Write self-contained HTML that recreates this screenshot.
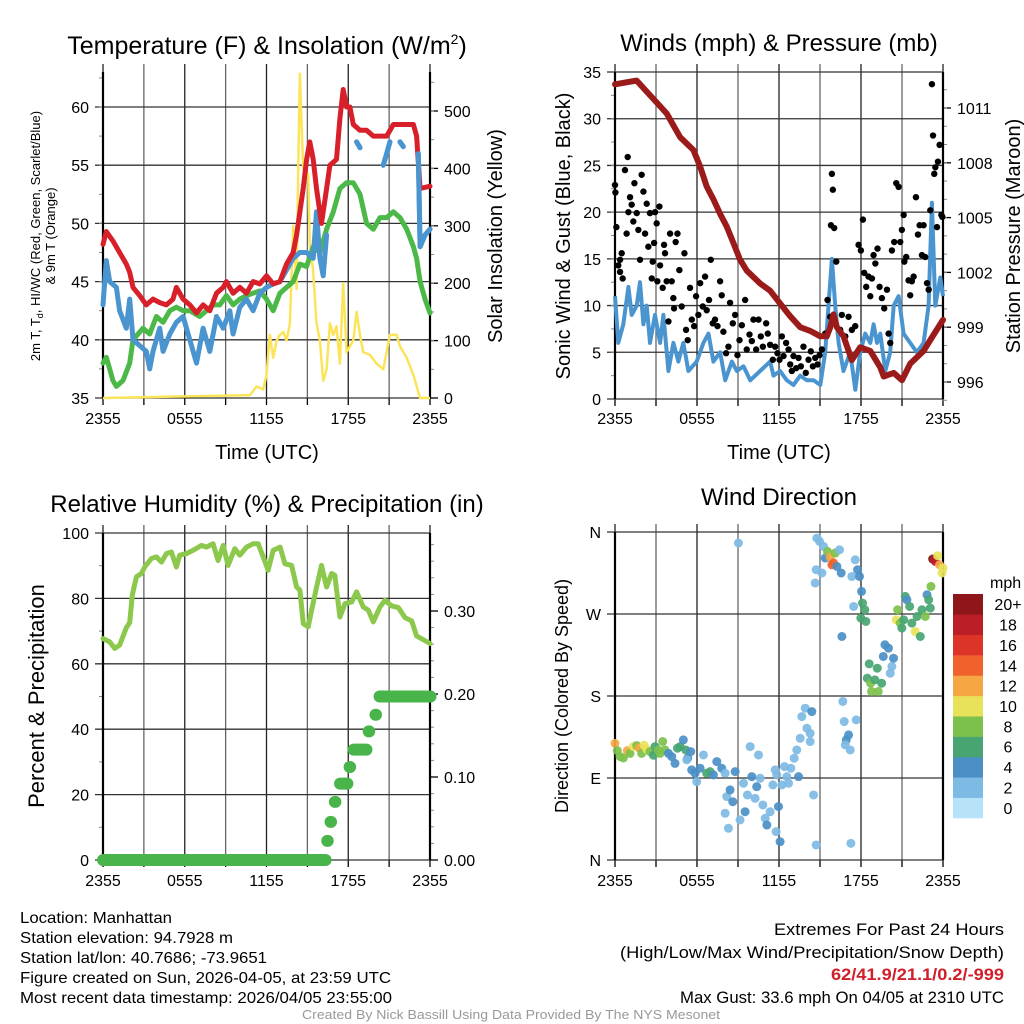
<!DOCTYPE html>
<html><head><meta charset="utf-8">
<style>
html,body{margin:0;padding:0;background:#fff;}
body{width:1024px;height:1024px;overflow:hidden;position:relative;font-family:"Liberation Sans",sans-serif;}
svg{position:absolute;left:0;top:0;}
</style></head>
<body>
<svg id="chart" width="1024" height="1024" viewBox="0 0 1024 1024" xmlns="http://www.w3.org/2000/svg">
<g id="g1"></g>
<g id="g2"></g>
<g id="g3"></g>
<g id="g4"></g>
<text x="267" y="54" font-size="25" text-anchor="middle">Temperature (F) &amp; Insolation (W/m<tspan font-size="14" dy="-10">2</tspan><tspan dy="10">)</tspan></text>
<text x="779" y="51" font-size="24" text-anchor="middle">Winds (mph) &amp; Pressure (mb)</text>
<text x="267" y="512" font-size="24" text-anchor="middle">Relative Humidity (%) &amp; Precipitation (in)</text>
<text x="779" y="505" font-size="24" text-anchor="middle">Wind Direction</text>
<text transform="translate(40,236) rotate(-90)" font-size="13" text-anchor="middle">2m T, T<tspan font-size="9" dy="3">d</tspan><tspan dy="-3">, HI/WC (Red, Green, Scarlet/Blue)</tspan></text>
<text transform="translate(55,236) rotate(-90)" font-size="13" text-anchor="middle">&amp; 9m T (Orange)</text>
<text transform="translate(502,236) rotate(-90)" font-size="20" text-anchor="middle">Solar Insolation (Yellow)</text>
<text x="267" y="459" font-size="20" text-anchor="middle">Time (UTC)</text>
<text transform="translate(570,236) rotate(-90)" font-size="20" text-anchor="middle">Sonic Wind &amp; Gust (Blue, Black)</text>
<text transform="translate(1020,236) rotate(-90)" font-size="20" text-anchor="middle">Station Pressure (Maroon)</text>
<text x="779" y="459" font-size="20" text-anchor="middle">Time (UTC)</text>
<text transform="translate(44,696) rotate(-90)" font-size="22" text-anchor="middle">Percent &amp; Precipitation</text>
<text transform="translate(568,696) rotate(-90)" font-size="18" text-anchor="middle">Direction (Colored By Speed)</text>
<g font-size="16">
<text x="20" y="923" textLength="152" lengthAdjust="spacingAndGlyphs">Location: Manhattan</text>
<text x="20" y="943" textLength="213" lengthAdjust="spacingAndGlyphs">Station elevation: 94.7928 m</text>
<text x="20" y="963" textLength="247" lengthAdjust="spacingAndGlyphs">Station lat/lon: 40.7686; -73.9651</text>
<text x="20" y="983" textLength="371" lengthAdjust="spacingAndGlyphs">Figure created on Sun, 2026-04-05, at 23:59 UTC</text>
<text x="20" y="1003" textLength="372" lengthAdjust="spacingAndGlyphs">Most recent data timestamp: 2026/04/05 23:55:00</text>
</g>
<g font-size="17">
<text x="774" y="935" textLength="230" lengthAdjust="spacingAndGlyphs">Extremes For Past 24 Hours</text>
<text x="620" y="958" textLength="384" lengthAdjust="spacingAndGlyphs">(High/Low/Max Wind/Precipitation/Snow Depth)</text>
<text x="831" y="980" fill="#d0202a" font-weight="bold" textLength="173" lengthAdjust="spacingAndGlyphs">62/41.9/21.1/0.2/-999</text>
<text x="680" y="1003" textLength="324" lengthAdjust="spacingAndGlyphs">Max Gust: 33.6 mph On 04/05 at 2310 UTC</text>
</g>
<text x="302" y="1019" font-size="13" fill="#999" textLength="418" lengthAdjust="spacingAndGlyphs">Created By Nick Bassill Using Data Provided By The NYS Mesonet</text>
</svg>
<script>
// ---- data (time in hours since 2355 UTC previous day) ----
const timeTickLabels = ["2355","0555","1155","1755","2355"];
const tempT = [0,0.24,0.73,1.22,1.71,1.96,2.2,2.69,3.18,3.67,4.16,4.65,5.14,5.39,5.88,6.37,6.86,7.35,7.84,8.33,8.82,9.06,9.55,10.04,10.53,11.02,11.51,12,12.49,12.98,13.47,13.96,14.21,14.45,14.69,14.94,15.18,15.43,15.67,16.04,16.41,16.65,17.14,17.39,17.63,17.88,18.12,18.37,18.86,19.35,19.84,20.33,20.82,21.31,21.8,22.29,22.78,23.02,23.27,24];
const tempV = [48.2,49.3,48.5,47.5,46.5,45.8,44.5,43.8,43,43.5,43.2,43,43.5,44.5,43.5,43,42.3,43,42.5,44,44.5,45,44,44.5,44,45,44.8,45.5,44.8,45,46.5,47.5,49,51,53,55.5,57,55.5,53,50,53,55,55.5,59,61.5,60,60,58.5,58,58,57.5,57.5,57.5,58.5,58.5,58.5,58.5,57.5,53,53.2];
const dewT = [0,0.24,0.49,0.73,0.98,1.47,1.96,2.2,2.94,3.43,3.92,4.41,4.9,5.39,5.88,6.37,7.1,7.59,8.08,8.57,9.06,9.55,10.04,10.53,11.02,11.51,12,12.49,12.98,13.47,13.96,14.45,14.94,15.43,15.92,16.41,16.9,17.39,17.88,18.37,18.86,19.35,19.84,20.33,20.82,21.31,21.8,22.29,22.78,23.02,23.27,23.63,24];
const dewV = [38,38.5,37.5,36.5,36,36.5,38,40,41,40.5,42,41.5,42.5,42.8,42.5,42.5,42,42.5,43,43,43.8,43,43.5,43.8,44,44.2,43.5,42.5,44,44.5,45,46.5,46.3,48,47.5,49.5,51,53,53.5,53.5,52.5,50,49.5,50.5,50.5,51,50.5,49.5,48,47,45,43.5,42.3];
const hiwcT = [0,0.24,0.49,0.98,1.22,1.71,1.96,2.2,2.69,3.18,3.43,3.67,4.16,4.41,4.9,5.39,5.88,6.37,6.86,7.35,7.84,8.33,8.82,9.31,9.55,10.04,10.53,11.02,11.51,12,12.49,12.98,13.47,13.96,14.45,14.94,15.43,15.67,15.92,16.16,16.41, 18.61,18.86, 20.57,20.82,21.06, 21.8,22.04, 23.14,23.27,23.63,24];
const hiwcV = [43,46.8,45,44.5,42.5,41,43.5,40,39.5,39,37.5,39,41,39,40.5,41.5,42,40,38,41,39,42,41,42.5,40.5,42.8,43.5,42.5,44,44.5,44.8,45,46,47,47.5,47.5,47,51,47,45.5,49, 57,56.5, 55,56,57, 57,56.6, 56,48,49,49.5];
const hiwcBreaks = [41,43,46,48];
const solarTimes = [0,10.78,11.27,11.76,12.0,12.25,12.49,12.74,12.98,13.23,13.47,13.72,13.96,14.21,14.33,14.45,14.57,14.69,15.06,15.18,15.43,15.67,15.92,16.16,16.41,16.65,16.9,17.14,17.39,17.63,17.88,18.37,18.61,18.86,19.1,19.59,20.08,20.57,21.06,21.55,21.8,22.29,22.78,23.27,24];
const solarVals = [0,5,20,15,40,110,70,100,110,115,100,130,300,190,400,565,480,400,390,270,220,130,100,30,50,130,110,125,60,200,80,100,150,110,80,75,60,50,110,110,90,70,40,0,0];
const tempTicks = [35,40,45,50,55,60];
const solarTicks = [0,100,200,300,400,500];

const windT = [0,0.24,0.61,0.98,1.22,1.59,1.83,2.08,2.32,2.56,2.93,3.3,3.54,3.91,4.27,4.64,5.0,5.37,5.98,6.47,6.84,7.2,7.69,8.06,8.55,8.91,9.4,9.89,10.62,11.35,11.6,12.08,12.57,13.06,13.55,14.04,14.53,15.02,15.38,15.62,15.87,16.11,16.36,16.72,17.21,17.58,17.94,18.31,18.68,18.92,19.17,19.41,19.78,20.14,20.39,20.75,21.12,21.6,22.09,22.58,22.95,23.19,23.44,23.8,24];
const windV = [11,6,8,12,9,10,12.5,8,10,6,9,6,9,3,6,4,6,3,4,6,7,4,5,2,4,3,3.5,2,3,4,2.5,3,2,1.5,2.5,2,2,1.5,5,10,15,10,6,3,5,1,5,7,6,8,6,7,3,5,10,11,7,6,5,6,10,21,10,13,11];
const gustT = [0,0.03,0.1,0.24,0.37,0.37,0.49,0.56,0.73,0.85,0.93,0.98,1.1,1.22,1.34,1.42,1.59,1.71,1.83,1.95,2.08,2.2,2.32,2.44,2.56,2.69,2.76,2.86,2.93,3.05,3.1,3.25,3.3,3.49,3.59,3.66,3.78,3.91,4.03,4.15,4.27,4.32,4.44,4.57,4.71,4.88,5.08,5.2,5.32,5.49,5.62,5.79,5.93,6.1,6.23,6.42,6.59,6.71,6.88,7.01,7.15,7.32,7.5,7.69,7.81,7.93,8.13,8.3,8.42,8.62,8.79,8.96,9.11,9.28,9.52,9.64,9.84,10.01,10.13,10.33,10.5,10.67,10.82,11.06,11.18,11.35,11.55,11.72,11.89,12.04,12.21,12.33,12.52,12.7,12.82,12.94,13.06,13.26,13.43,13.6,13.79,13.96,14.16,14.33,14.48,14.65,14.82,14.97,15.14,15.38,15.55,15.75,15.87,15.94,15.8,16.04,16.19,16.48,16.6,16.85,17.09,17.33,17.58,17.82,17.99,18.14,18.24,18.38,18.55,18.68,18.8,18.92,19.05,19.21,19.36,19.53,19.7,19.9,20.02,20.14,20.26,20.43,20.58,20.75,20.87,20.99,21.12,21.17,21.31,21.48,21.6,21.72,21.85,22.02,22.17,22.29,22.46,22.58,22.7,22.83,22.95,23.07,23.19,23.27,23.36,23.44,23.56,23.63,23.75,23.88,23.95];
const gustV = [22.9,22.1,18.4,14.3,14.9,13.6,15.6,12.9,24.5,17.7,25.9,20,21.6,20.8,19,23.1,19.9,18.1,14.9,24,22.2,17.7,20.9,16.3,19.9,12.9,14.7,16.7,20,18.8,12.6,20.6,14.3,11.9,16.5,15.6,12.6,8.3,17.7,12.6,10.8,9.7,16.8,17.7,13.8,9.9,15.6,7.4,6.3,11.9,8.5,7.8,11,9,12.4,9.9,13.1,9.5,10.6,14.9,8.1,8.5,7.8,12.6,11.1,7.2,4.9,5.6,10.3,8.1,9,4.7,6.3,7.9,10.6,5.3,6.9,6.2,8.5,5.3,8.5,6.7,5.6,8.1,7,5.8,4.2,5.6,4.9,4.2,6.7,4.6,6,5.3,3.7,3,4.6,3.3,4.4,3.5,5.6,2.8,4.2,5.1,3.5,4.4,3.7,4.7,5.3,7,10.6,8.8,24.1,22.4,18.6,18.3,14.7,7.4,9,6.7,8.8,7.4,7.8,16.5,15.9,19.2,13.5,12,13.1,11,12.9,15.4,14.5,16.1,12,10.8,9.7,11.7,7,6,15.9,16.8,23.1,22.7,16.8,18.1,19.7,14.7,15.2,12.7,11.1,12.6,13.1,21.6,17.6,18.6,15.4,18.6,15.2,12.4,11.7,20.2,33.7,28.2,24.1,24.8,18.4,25.4,27.2,19.7,19.5];
const presT = [0,1.59,2.32,3.05,3.78,4.76,5.74,6.23,6.71,7.2,7.69,8.18,8.67,9.15,9.64,10.62,11.35,12.08,12.82,13.55,14.28,15.02,15.5,15.75,15.99,16.24,16.72,17.33,17.94,18.68,19.41,19.66,20.39,21.0,21.6,22.58,23.07,24];
const presV = [1012.3,1012.5,1011.9,1011.3,1010.7,1009.4,1008.7,1007.8,1006.7,1006,1005.2,1004.5,1003.6,1002.7,1002.1,1001.4,1001,1000.3,999.6,999,998.8,998.5,998.5,999,999.7,999,998.5,997.2,997.9,997.7,996.8,996.3,996.5,996.1,997,997.7,998.3,999.4];
const windTicks = [0,5,10,15,20,25,30,35];
const presTicks = [996,999,1002,1005,1008,1011];

const rhT = [0,0.49,0.86,1.22,1.71,1.96,2.15,2.45,2.82,3.06,3.55,3.92,4.29,4.65,5.02,5.39,5.63,6.12,6.61,7.23,7.59,8.08,8.45,8.82,9.18,9.67,10.04,10.53,11.02,11.39,11.76,12.12,12.49,13.0,13.35,13.84,14.21,14.45,14.7,15.06,15.31,15.68,16.04,16.41,16.78,17.01,17.39,17.76,18.25,18.61,19.1,19.47,19.84,20.33,20.7,21.19,21.68,22.17,22.66,23.02,24];
const rhV = [67.7,66.7,64.7,65.7,71,72.6,81,86.6,87.6,89.6,92.2,92.7,91.1,93.7,94.2,89.6,93.2,93.7,94.7,96.2,95.7,96.7,91.6,96.2,90.1,95.2,93.2,95.7,96.7,96.7,92.7,88.6,94.7,95.7,90.6,90.1,83.5,82.5,72.3,71.3,76.4,83.5,90.1,83.5,87.6,87.1,74.3,78.4,78.9,82,77.4,76.4,72.8,77.4,79.4,77.7,77.2,74.1,73.1,68.5,66.2];
const precipStart = [0,16.46,16.7,17.02,17.4,18.1,18.4,19.5,20.0,20.3];
const precipEnd   = [16.3,16.46,16.7,17.02,17.9,18.1,19.3,19.5,20.0,24];
const precipVal   = [0,0.023,0.046,0.070,0.092,0.112,0.133,0.155,0.175,0.197];
const rhTicks = [0,20,40,60,80,100];
const precipTicks = [0,0.1,0.2,0.3];

const dirT = [0,0.17,0.37,0.61,0.9,1.1,1.34,1.59,1.76,1.95,2.12,2.32,2.56,2.81,2.93,3.17,3.3,3.49,3.66,3.91,4.15,4.39,4.57,4.76,5.0,5.18,5.32,5.54,5.25,5.61,5.86,5.98,6.23,6.47,6.71,6.96,7.2,7.45,7.81,8.06,8.18,8.42,8.62,8.06,8.3,8.79,9.03,9.15,9.4,9.52,9.69,9.89,10.01,10.25,10.37,10.5,10.62,10.82,10.99,11.11,11.35,11.55,11.72,11.84,11.96,11.79,12.08,12.21,12.4,12.57,12.7,12.87,13.11,13.3,13.43,13.55,13.67,13.92,14.04,14.28,14.4,14.28,14.53,14.65,14.72,14.77,14.97,15.14,15.26,15.38,15.55,15.75,15.87,15.99,16.11,16.24,16.43,16.55,16.67,16.77,16.6,16.92,17.09,16.85,17.21,17.26,14.72,17.33,17.58,17.75,17.89,17.65,17.46,18.04,18.11,18.28,17.99,18.36,18.6,18.46,18.7,18.77,19.02,19.19,19.26,19.51,19.63,19.75,20.01,20.14,20.26,20.38,20.58,20.68,20.87,20.99,21.12,21.24,21.36,21.56,21.72,21.97,22.1,22.34,22.46,22.7,22.83,22.95,23.07,23.12,23.24,23.44,23.61,23.75,23.93,24];
const dirV = [128,120,113.5,112,120,117,124.5,125.6,123,117,126,121.5,119,115,124.5,120.8,117,130,120.8,117,113.5,106,122.7,124.5,131.8,120.8,111.7,119,110,98.9,95.2,86,100.7,115.3,95.2,97,93.4,108,100.7,95.2,69.6,76.9,64,51.3,34.8,97,347.9,44,84.2,53,71.4,124.5,91.5,67.7,80.5,115.3,89.7,60.4,45.8,38.4,53,82.4,98.9,93.4,58.6,31.1,20.1,82.4,102.5,91.5,84.2,100.7,111.7,120.8,91.5,133.6,157.4,166.6,144.6,130,162.9,139,71.4,304,318.6,353.3,349.7,315,344.2,331.4,338.7,332.5,324,326,336.9,322.2,340.5,315,174,152,245.3,131.8,137.3,126.3,120.8,18.3,16.5,311.2,329.5,318.6,311.2,153.8,278.3,294.8,282,274.6,265.5,261.8,215.3,199.6,194,185,197.7,210.5,185,194,223.4,236.2,232.5,205,212.4,221.5,263.6,274.6,260,254.5,263.6,289.3,285.6,278.3,260,250.8,267.3,245.3,274.6,267.3,291.1,285.6,276.5,300.3,330.3,327.7,334,324,315,320.4];
const dirS = [12,8,8,8,12,8,10,8,12,8,10,10,8,6,6,8,8,8,8,4,4,4,6,6,4,6,4,4,2,4,4,2,4,2,6,6,4,4,4,2,2,4,4,2,2,4,2,2,2,4,2,2,4,2,4,2,2,2,2,4,2,2,1,2,4,2,4,2,2,2,2,1,1,1,4,2,2,1,2,2,4,2,1,2,2,2,2,2,2,4,8,12,14,14,8,4,2,4,2,2,4,4,4,2,2,2,2,2,2,4,4,1,2,4,6,6,6,6,6,6,8,8,6,6,8,6,4,4,4,2,2,4,10,8,8,6,6,6,4,6,6,10,6,6,6,8,4,6,6,8,20,18,10,12,10,10];
const dirTickLabels = ["N","E","S","W","N"];
const speedLabels = ["0","2","4","6","8","10","12","14","16","18","20+"];
const speedColors = ["#b6e3f7","#7dbae4","#4a8fc6","#48a571","#7cc14b","#e8e25a","#f6a744","#f0622b","#dd3428","#bd1d26","#8e1519"];

// ---- helpers ----
const NS = "http://www.w3.org/2000/svg";
function mk(parent, tag, attrs){ const e=document.createElementNS(NS,tag); for(const k in attrs) e.setAttribute(k,attrs[k]); parent.appendChild(e); return e; }
function lin(d0,d1,r0,r1){ return v => r0 + (v-d0)/(d1-d0)*(r1-r0); }
function pathD(ts, vs, sx, sy, from, to){ let d=""; for(let i=from;i<to;i++){ d += (i===from?"M":"L")+sx(ts[i]).toFixed(1)+","+sy(vs[i]).toFixed(1); } return d; }

function frame(g, x0,x1,yT,yB, sx, leftTicks, sy, leftFmt, rightTicks, sR, rightFmt, minorL, minorR, showXLabels, labelY){
  for(let h=0;h<=24;h+=3){
    const x=sx(h);
    const l=mk(g,"line",{x1:x,x2:x,y1:yT-8,y2:yB,stroke:(h%6===0)?"#222":"#666","stroke-width":1.3});
    
    
    const t=mk(g,"line",{x1:x,x2:x,y1:yB,y2:yB+7,stroke:"#000","stroke-width":1.3});
    
    
  }
  leftTicks.forEach(v=>{
    const y=sy(v);
    const l=mk(g,"line",{x1:x0-8,x2:x1,y1:y,y2:y,stroke:"#333","stroke-width":1.3});
    
    
    const t=mk(g,"text",{x:x0-14,y:y+6,"font-size":16,"text-anchor":"end"});
    t.textContent=leftFmt(v);
    
    
  });
  minorL.forEach(v=>{ const y=sy(v); const m=mk(g,"line",{x1:x0-4,x2:x0,y1:y,y2:y,stroke:"#888","stroke-width":1});
    
     });
  if(rightTicks){
    rightTicks.forEach(v=>{
      const y=sR(v);
      const tk=mk(g,"line",{x1:x1,x2:x1+8,y1:y,y2:y,stroke:"#000","stroke-width":1.3});
      
      
      const t=mk(g,"text",{x:x1+14,y:y+6,"font-size":16,"text-anchor":"start"});
      t.textContent=rightFmt(v);
      
      
    });
    minorR.forEach(v=>{ const y=sR(v); const m=mk(g,"line",{x1:x1,x2:x1+4,y1:y,y2:y,stroke:"#888","stroke-width":1});
      
       });
  }
  const ax=mk(g,"path",{d:`M${x0},${yT}V${yB}M${x1},${yT}V${yB}`,stroke:"#000","stroke-width":2.2,fill:"none"});
  
  
  if(showXLabels){
    timeTickLabels.forEach((s,i)=>{
      const t=mk(g,"text",{x:sx(i*6),y:labelY,"font-size":16,"text-anchor":"middle"});
      t.textContent=s;
      
      
    });
  }
}
function range(a,b,s){ const r=[]; for(let v=a; v<=b+1e-9; v+=s) r.push(+v.toFixed(4)); return r; }

// ---- Panel 1 ----
(function(){
  const g=document.getElementById("g1");
  const x0=103,x1=430,yT=72,yB=398;
  const sx=lin(0,24,x0,x1), sy=lin(35,60,398,107), sR=lin(0,500,398,111);
  frame(g,x0,x1,yT,yB,sx,tempTicks,sy,v=>v,solarTicks,sR,v=>v,range(37.5,62.5,2.5),range(50,550,50),true,424);
  const ys=mk(g,"path",{d:pathD(solarTimes,solarVals,sx,sR,0,solarTimes.length),stroke:"#fce45a","stroke-width":2.5,fill:"none","stroke-linejoin":"round"});
  
  
  const dp=mk(g,"path",{d:pathD(dewT,dewV,sx,sy,0,dewT.length),stroke:"#4cb848","stroke-width":5,fill:"none","stroke-linejoin":"round","stroke-linecap":"round"});
  
  
  const segs=[0].concat(hiwcBreaks).concat([hiwcT.length]);
  for(let s=0;s<segs.length-1;s++){
    const b=mk(g,"path",{d:pathD(hiwcT,hiwcV,sx,sy,segs[s],segs[s+1]),stroke:"#4a94cf","stroke-width":5,fill:"none","stroke-linejoin":"round","stroke-linecap":"round"});
    
    
  }
  const tp=mk(g,"path",{d:pathD(tempT,tempV,sx,sy,0,tempT.length),stroke:"#d7202a","stroke-width":5,fill:"none","stroke-linejoin":"round","stroke-linecap":"round"});
  
  
  for(let s=1;s<segs.length-1;s++){
    const b=mk(g,"path",{d:pathD(hiwcT,hiwcV,sx,sy,segs[s],segs[s+1]),stroke:"#4a94cf","stroke-width":5,fill:"none","stroke-linejoin":"round","stroke-linecap":"round"});
    
    
  }
})();

// ---- Panel 2 ----
(function(){
  const g=document.getElementById("g2");
  const x0=615,x1=943,yT=72,yB=399;
  const sx=lin(0,24,x0,x1), sy=lin(0,35,399,72), sR=lin(996,1011,382,108);
  frame(g,x0,x1,yT,yB,sx,windTicks,sy,v=>v,presTicks,sR,v=>v,range(2.5,32.5,2.5),range(995,1012,1),true,424);
  const wl=mk(g,"path",{d:pathD(windT,windV,sx,sy,0,windT.length),stroke:"#4a94cf","stroke-width":4,fill:"none","stroke-linejoin":"round"});
  
  
  gustT.forEach((t,i)=>{
    const c=mk(g,"circle",{cx:sx(t),cy:sy(gustV[i]),r:3.2,fill:"#000"});
    
    
  });
  const pl=mk(g,"path",{d:pathD(presT,presV,sx,sR,0,presT.length),stroke:"#9b1b1b","stroke-width":6,fill:"none","stroke-linejoin":"round","stroke-linecap":"round"});
  
  
})();

// ---- Panel 3 ----
(function(){
  const g=document.getElementById("g3");
  const x0=103,x1=430,yT=533,yB=860;
  const sx=lin(0,24,x0,x1), sy=lin(0,100,860,533), sR=lin(0,0.3,860,611);
  frame(g,x0,x1,yT,yB,sx,rhTicks,sy,v=>v,precipTicks,sR,v=>v.toFixed(2),range(10,90,20),range(0.02,0.38,0.02).filter(v=>Math.abs(v*10-Math.round(v*10))>1e-6),true,886);
  const rl=mk(g,"path",{d:pathD(rhT,rhV,sx,sy,0,rhT.length),stroke:"#8cc84b","stroke-width":5,fill:"none","stroke-linejoin":"round","stroke-linecap":"round"});
  
  
  precipStart.forEach((s,i)=>{
    const y=sR(precipVal[i]);
    const p=mk(g,"line",{x1:sx(s),x2:sx(precipEnd[i])+0.5,y1:y,y2:y,stroke:"#48b44a","stroke-width":12,"stroke-linecap":"round"});
    
    
  });
})();

// ---- Panel 4 ----
(function(){
  const g=document.getElementById("g4");
  const x0=615,x1=943,yT=532,yB=860;
  const sx=lin(0,24,x0,x1), sy=lin(0,360,860,532);
  frame(g,x0,x1,yT,yB,sx,[0,90,180,270,360],sy,v=>dirTickLabels[v/90],null,null,null,[],[],true,886);
  dirT.forEach((t,i)=>{
    const lvl=Math.min(10,Math.max(0,Math.round(dirS[i]/2)));
    const c=mk(g,"circle",{cx:sx(t),cy:sy(dirV[i]),r:4.5,fill:speedColors[lvl],"fill-opacity":0.92});
    
    
  });
  const cb=mk(g,"g",{});
  
  
  const top=594, h=(818-594)/11;
  speedColors.forEach((col,i)=>{
    const y=top+(10-i)*h;
    const r=mk(cb,"rect",{x:953,y:y,width:30,height:h+0.3,fill:col});
    
    
    const t=mk(cb,"text",{x:1008,y:y+h/2+6,"font-size":16,"text-anchor":"middle"});
    t.textContent=speedLabels[i];
    
    
  });
  const u=mk(cb,"text",{x:990,y:588,"font-size":16});
  u.textContent="mph";
  
  
})();
</script>
</body></html>
